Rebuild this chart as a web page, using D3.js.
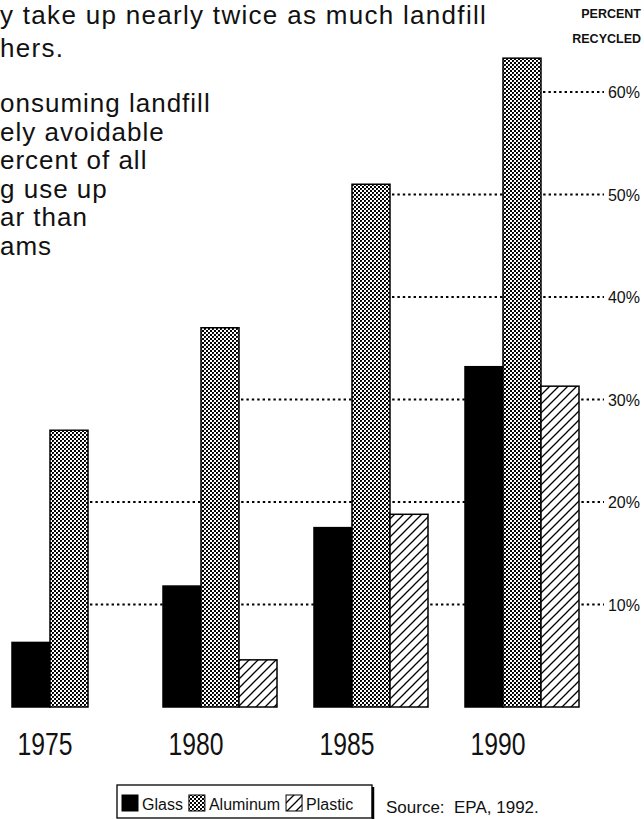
<!DOCTYPE html>
<html><head><meta charset="utf-8">
<script src="https://cdn.jsdelivr.net/npm/d3@7/dist/d3.min.js"></script>
<style>
body{margin:0;background:#fff;}
svg{display:block;}
text{font-family:"Liberation Sans",Arial,Helvetica,sans-serif;fill:#111;}
</style>
</head><body>
<script>
// ---- data ----
const years = ["1975", "1980", "1985", "1990"];
const series = ["Glass", "Aluminum", "Plastic"];
const glass = [6.3, 11.8, 17.5, 33.2];
const aluminum = [27, 37, 51, 63.3];
const plastic = [0, 4.6, 18.8, 31.3];
const tickValues = [10, 20, 30, 40, 50, 60];
const tickLabels = ["10%", "20%", "30%", "40%", "50%", "60%"];
const axisTitle = ["PERCENT", "RECYCLED"];
const headLines = ["y take up nearly twice as much landfill", "hers."];
const bodyLines = ["onsuming  landfill", "ely  avoidable", "ercent of all", "g use up", "ar than", "ams"];
const sourceNote = "Source:  EPA, 1992.";

const W = 644, H = 819;
const svg = d3.select("body").append("svg").attr("width", W).attr("height", H);

// patterns
const defs = svg.append("defs");
const pA = defs.append("pattern").attr("id", "alum").attr("patternUnits", "userSpaceOnUse")
  .attr("width", 4).attr("height", 4);
pA.append("rect").attr("width", 4).attr("height", 4).attr("fill", "#fff");
pA.append("rect").attr("x", 0).attr("y", 0).attr("width", 2).attr("height", 2).attr("fill", "#000");
pA.append("rect").attr("x", 2).attr("y", 2).attr("width", 2).attr("height", 2).attr("fill", "#000");
pA.append("rect").attr("x", 1).attr("y", 1).attr("width", 1).attr("height", 1).attr("fill", "#333");

const pP = defs.append("pattern").attr("id", "plas").attr("patternUnits", "userSpaceOnUse")
  .attr("width", 9).attr("height", 9);
pP.append("rect").attr("width", 9).attr("height", 9).attr("fill", "#fff");
pP.append("path").attr("d", "M-1,10 L10,-1 M-2,2 L2,-2 M7,11 L11,7")
  .attr("stroke", "#000").attr("stroke-width", 1.3);

const fills = {Glass: "#000", Aluminum: "url(#alum)", Plastic: "url(#plas)"};
const valuesBy = {Glass: glass, Aluminum: aluminum, Plastic: plastic};

// scales
const x0 = d3.scaleBand().domain(years).range([12, 579]).paddingInner(0.245).paddingOuter(0).align(0);
const x1 = d3.scaleBand().domain(series).range([0, x0.bandwidth()]).padding(0);
const y = d3.scaleLinear().domain([0, 60]).range([707, 92]);

// header text
const head = svg.append("g").style("font-size", "26px").style("letter-spacing", "1.3px");
head.selectAll("text").data(headLines).join("text")
  .attr("x", 0).attr("y", (d, i) => 24 + i * 33).text(d => d);
const body = svg.append("g").style("font-size", "26px").style("letter-spacing", "1px").style("white-space", "pre");
body.selectAll("text").data(bodyLines).join("text")
  .attr("x", 0).attr("y", (d, i) => 112 + i * 28.6).text(d => d);

// axis title
svg.append("g").style("font-size", "12.5px").style("font-weight", "bold")
  .selectAll("text").data(axisTitle).join("text")
  .attr("x", 641).attr("y", (d, i) => 18 + i * 25).attr("text-anchor", "end").text(d => d);

// tick labels
const tickG = svg.append("g");
const labels = tickG.selectAll("text").data(tickValues).join("text")
  .attr("x", 640).attr("y", d => y(d) + 6).attr("text-anchor", "end")
  .style("font-size", "16px").text((d, i) => tickLabels[i]);

// dotted gridlines: start at the right edge of the first aluminum bar that reaches the level
const gridG = svg.insert("g", "g");
tickValues.forEach((t, i) => {
  const idx = aluminum.findIndex(v => v >= t);
  const xs = x0(years[idx]) + x1("Aluminum") + x1.bandwidth() + 2;
  const lw = labels.nodes()[i].getComputedTextLength();
  gridG.append("line").attr("x1", xs).attr("x2", 640 - lw - 4)
    .attr("y1", y(t)).attr("y2", y(t))
    .attr("stroke", "#000").attr("stroke-width", 2).attr("stroke-dasharray", "2.4,3");
});

// bars
const bars = svg.append("g");
years.forEach((yr, yi) => {
  series.forEach(s => {
    const v = valuesBy[s][yi];
    if (!v) return;
    bars.append("rect")
      .attr("x", x0(yr) + x1(s)).attr("width", x1.bandwidth())
      .attr("y", y(v)).attr("height", y(0) - y(v))
      .attr("fill", fills[s]).attr("stroke", "#000").attr("stroke-width", 1.5);
  });
});

// year labels, under the glass/aluminum pair
svg.append("g").selectAll("text").data(years).join("text")
  .attr("x", d => x0(d) + x1("Aluminum") - 5).attr("y", 755)
  .attr("text-anchor", "middle").attr("textLength", 55).attr("lengthAdjust", "spacingAndGlyphs")
  .style("font-size", "31px").text(d => d);

// legend
const lg = svg.append("g");
lg.append("rect").attr("x", 117).attr("y", 785).attr("width", 255).attr("height", 33)
  .attr("fill", "#fff").attr("stroke", "#000").attr("stroke-width", 1.3);
lg.append("line").attr("x1", 373).attr("x2", 373).attr("y1", 787).attr("y2", 819)
  .attr("stroke", "#000").attr("stroke-width", 2.5);
let lx = 122;
series.forEach(s => {
  lg.append("rect").attr("x", lx).attr("y", 795).attr("width", 16).attr("height", 16)
    .attr("fill", fills[s]).attr("stroke", "#000").attr("stroke-width", 1);
  const t = lg.append("text").attr("x", lx + 20).attr("y", 810).style("font-size", "16px").text(s);
  lx += 20 + t.node().getComputedTextLength() + 6;
});

svg.append("text").attr("x", 386).attr("y", 813).style("font-size", "17px")
  .style("white-space", "pre").text(sourceNote);
</script>
</body></html>
